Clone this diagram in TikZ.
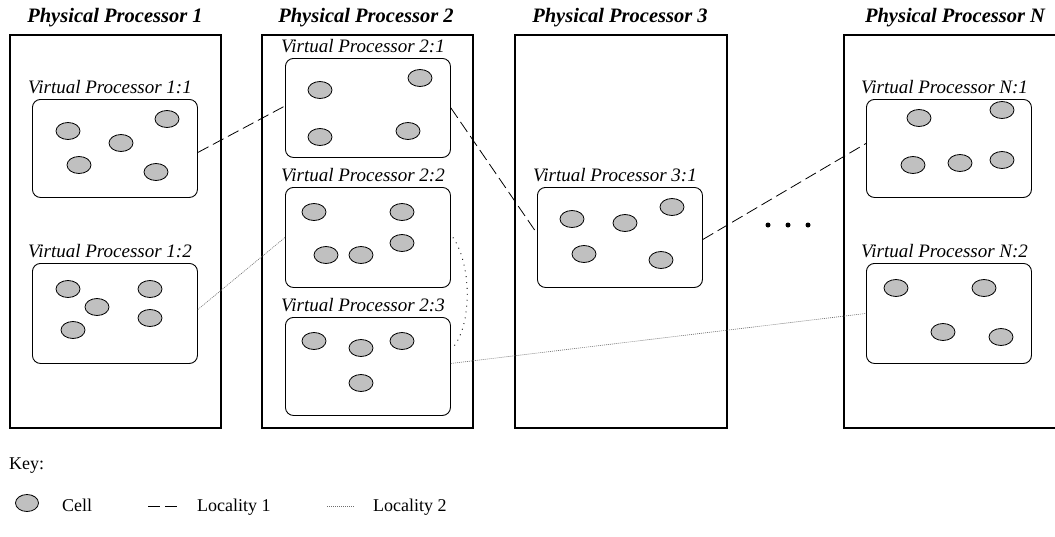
\documentclass[tikz,border=0pt]{standalone}
\usepackage{fontspec}
\setmainfont{Liberation Serif}
\usetikzlibrary{shapes.geometric,calc}
\definecolor{cellgray}{RGB}{192,192,192}
\definecolor{loc2gray}{RGB}{110,110,110}
\begin{document}
\begin{tikzpicture}[x=1pt,y=-1pt,
  ppbox/.style={draw, line width=2pt, minimum width=211pt, minimum height=393pt, inner sep=0pt, anchor=north west},
  pptitle/.style={font=\fontsize{20.5}{24}\selectfont\bfseries\itshape, anchor=base, inner sep=0pt},
  vpbox/.style={draw, line width=0.9pt, rounded corners=8pt, minimum width=165pt, inner sep=0pt, anchor=north west},
  vplabel/.style={font=\fontsize{19}{22}\selectfont\itshape, anchor=base west, inner sep=0pt},
  cell/.style={ellipse, draw, line width=0.8pt, fill=cellgray, minimum width=24pt, minimum height=17pt, inner sep=0pt},
  keytext/.style={font=\fontsize{18}{21}\selectfont, anchor=base west, inner sep=0pt},
  loc1/.style={line width=0.8pt, dash pattern=on 12pt off 5pt},
  loc2/.style={line width=0.6pt, draw=loc2gray, dash pattern=on 1pt off 1pt},
  arcdot/.style={line width=0.9pt, dash pattern=on 0.9pt off 5pt},
  dot/.style={circle, fill, inner sep=0pt, minimum size=5pt}
]
\clip (0,0) rectangle (1055,536);
\fill[white] (0,0) rectangle (1055,536);

% physical processors
\node[ppbox] (pp1) at (9,34) {};
\node[ppbox] (pp2) at (261,34) {};
\node[ppbox, minimum width=212pt] (pp3) at (514,34) {};
\node[ppbox, minimum width=223pt] (ppN) at (843,34) {};
\node[pptitle] (t1) at (115,22) {Physical Processor 1};
\node[pptitle] (t2) at (366,22) {Physical Processor 2};
\node[pptitle] (t3) at (620,22) {Physical Processor 3};
\node[pptitle] (tN) at (955,22) {Physical Processor N};

% virtual processors
\node[vpbox, minimum height=98pt]  (v11) at (32,99) {};
\node[vpbox, minimum height=100pt] (v12) at (32,263) {};
\node[vpbox, minimum height=99pt]  (v21) at (285,58) {};
\node[vpbox, minimum height=100pt] (v22) at (285,187) {};
\node[vpbox, minimum height=98pt]  (v23) at (285,317) {};
\node[vpbox, minimum height=100pt] (v31) at (537,187) {};
\node[vpbox, minimum height=98pt]  (vN1) at (866,99) {};
\node[vpbox, minimum height=100pt] (vN2) at (866,263) {};

\node[vplabel] (l11) at ($(v11.north west)+(-4,-6)$) {Virtual Processor 1:1};
\node[vplabel] (l12) at ($(v12.north west)+(-4,-6)$) {Virtual Processor 1:2};
\node[vplabel] (l21) at ($(v21.north west)+(-4,-6)$) {Virtual Processor 2:1};
\node[vplabel] (l22) at ($(v22.north west)+(-4,-6)$) {Virtual Processor 2:2};
\node[vplabel] (l23) at ($(v23.north west)+(-4,-6)$) {Virtual Processor 2:3};
\node[vplabel] (l31) at ($(v31.north west)+(-4,-6)$) {Virtual Processor 3:1};
\node[vplabel] (lN1) at ($(vN1.north west)+(-5,-6)$) {Virtual Processor N:1};
\node[vplabel] (lN2) at ($(vN2.north west)+(-5,-6)$) {Virtual Processor N:2};

% cells
\foreach \x/\y [count=\i] in {68/131,121/143,167/119,79/165,156/172} \node[cell] (c11-\i) at (\x,\y) {};
\foreach \x/\y [count=\i] in {68/289,97/307,73/330,150/289,150/318} \node[cell] (c12-\i) at (\x,\y) {};
\foreach \x/\y [count=\i] in {320/90,320/137,420/78,408/131} \node[cell] (c21-\i) at (\x,\y) {};
\foreach \x/\y [count=\i] in {314/212,402/212,326/255,361/255,402/243} \node[cell] (c22-\i) at (\x,\y) {};
\foreach \x/\y [count=\i] in {314/341,361/348,402/341,361/383} \node[cell] (c23-\i) at (\x,\y) {};
\foreach \x/\y [count=\i] in {572/219,625/223,672/207,584/254,661/260} \node[cell] (c31-\i) at (\x,\y) {};
\foreach \x/\y [count=\i] in {919/118,1002/110,913/165,960/163,1002/160} \node[cell] (cN1-\i) at (\x,\y) {};
\foreach \x/\y [count=\i] in {896/288,984/288,943/332,1001/337} \node[cell] (cN2-\i) at (\x,\y) {};

% ellipsis dots
\node[dot] (d1) at (768,225) {};
\node[dot] (d2) at (788,225) {};
\node[dot] (d3) at (808,225) {};

% locality 1
\draw[loc1] ([yshift=-4pt]v11.east) -- ([yshift=2pt]v21.west);
\draw[loc1] (v21.east) -- ([yshift=4pt]v31.west);
\draw[loc1] ([yshift=-2pt]v31.east) -- ([yshift=5pt]vN1.west);

% locality 2
\draw[loc2] ([yshift=4pt]v12.east) -- (v22.west);
\draw[arcdot] ([xshift=2pt]v22.east) .. controls (472,265) and (472,325) .. ([xshift=2pt,yshift=19pt]v23.east);
\draw[loc2] ([yshift=3pt]v23.east) -- (vN2.west);

% key
\node[keytext] (key) at (9,469) {Key:};
\node[cell, minimum width=23pt] (kc) at (27,503) {};
\node[keytext] (kcell) at (62,511) {Cell};
\coordinate (k1a) at (148,506);
\coordinate (k1b) at (177,506);
\draw[loc1] (k1a) -- (k1b);
\node[keytext] (kl1) at (197,511) {Locality 1};
\coordinate (k2a) at (327,506);
\coordinate (k2b) at (355,506);
\draw[loc2] (k2a) -- (k2b);
\node[keytext] (kl2) at (373,511) {Locality 2};
\end{tikzpicture}
\end{document}
